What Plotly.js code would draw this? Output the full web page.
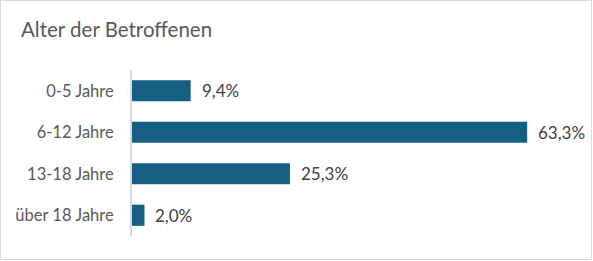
<!DOCTYPE html>
<html>
<head>
<meta charset="utf-8">
<script src="https://cdn.plot.ly/plotly-3.0.1.min.js"></script>
<style>
  html, body { margin: 0; padding: 0; background: #fff; }
  #box { position: absolute; left: 0; top: 0; width: 592px; height: 260px; box-sizing: border-box; border: 1px solid #d9d9d9; background: #fff; }
  #chart { width: 590px; height: 258px; }
</style>
</head>
<body>
<div id="box"><div id="chart"></div></div>
<script>
const chartTitle = "Alter der Betroffenen";
const categories = ["0-5 Jahre", "6-12 Jahre", "13-18 Jahre", "über 18 Jahre"];
const values = [9.4, 63.3, 25.3, 2.0];

const fmt = v => v.toFixed(1).replace('.', ',') + '%';
const FONT = 'Lato, "Open Sans", sans-serif';

const trace = {
  type: 'bar',
  orientation: 'h',
  y: categories,
  x: values,
  marker: { color: '#156082' },
  hoverinfo: 'none'
};

const annotations = categories.map((c, i) => ({
  x: values[i], y: c, xref: 'x', yref: 'y',
  text: fmt(values[i]), showarrow: false,
  xanchor: 'left', yanchor: 'middle', xshift: 9,
  font: { family: FONT, size: 17, color: '#404040' }
}));

const layout = {
  width: 590, height: 258,
  margin: { l: 131, r: 22, t: 69, b: 23 },
  paper_bgcolor: '#fff', plot_bgcolor: '#fff',
  title: {
    text: chartTitle, xref: 'container', yref: 'container',
    x: 20 / 590, xanchor: 'left', y: 1 - 29 / 258, yanchor: 'middle',
    font: { family: FONT, size: 20.5, color: '#595959' }
  },
  bargap: 0.49,
  showlegend: false,
  xaxis: { range: [0, 70], visible: false, fixedrange: true },
  yaxis: {
    type: 'category', range: [3.5, -0.5],
    showline: true, linecolor: '#d9d9d9', linewidth: 2,
    showgrid: false, zeroline: false, ticks: '',
    ticklabelstandoff: 13,
    tickfont: { family: FONT, size: 16.5, color: '#595959' },
    fixedrange: true
  },
  annotations: annotations
};

Plotly.newPlot('chart', [trace], layout, { displayModeBar: false, staticPlot: true });
</script>
</body>
</html>
